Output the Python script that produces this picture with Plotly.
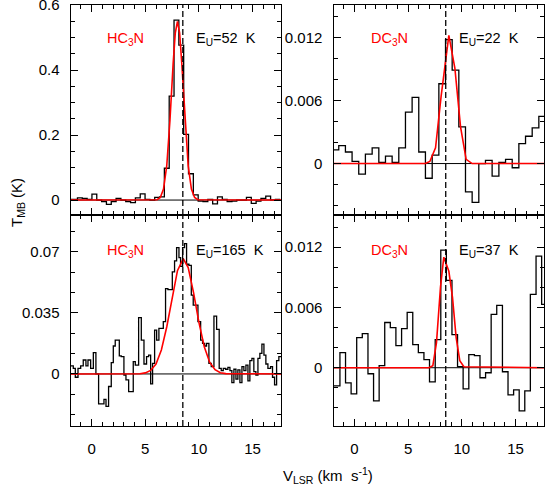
import plotly.graph_objects as go
from plotly.subplots import make_subplots

# ---- HC3N, Eu = 52 K (top left) : channel left edges (km/s) and T_MB (K)
hc3n_52_v = [-2.22, -1.77, -1.32, -0.87, -0.42, 0.03, 0.48, 0.93, 1.38, 1.83,
             2.28, 2.73, 3.18, 3.63, 4.08, 4.53, 4.98, 5.43, 5.88, 6.33,
             6.78, 7.23, 7.68, 8.13, 8.58, 9.03, 9.48, 9.93, 10.38, 10.83,
             11.28, 11.73, 12.18, 12.63, 13.08, 13.53, 13.98, 14.43, 14.88, 15.33,
             15.78, 16.23, 16.68, 17.13, 17.58]
hc3n_52_t = [0.002, 0.002, 0.007, 0.005, 0.002, 0.018, 0.0, -0.005, -0.013, -0.005,
             0.005, 0.0, -0.005, -0.008, 0.007, 0.019, 0.002, 0.0, 0.008, 0.010,
             0.098, 0.320, 0.554, 0.477, 0.202, 0.081, 0.016, -0.003, -0.005, 0.002,
             -0.012, 0.010, 0.002, -0.005, -0.003, 0.0, 0.0, 0.008, -0.010, -0.003,
             0.005, 0.012, 0.0, 0.002]
hc3n_52_fit_v = [-1.95, 6.1, 6.4, 6.7, 7.0, 7.3, 7.6, 7.8, 8.0, 8.2, 8.4, 8.7, 9.0, 9.3, 9.6, 9.9, 17.65]
hc3n_52_fit_t = [0.0, 0.001, 0.008, 0.034, 0.105, 0.245, 0.422, 0.515, 0.55, 0.515, 0.422,
                 0.245, 0.105, 0.034, 0.008, 0.001, 0.0]

# ---- DC3N, Eu = 22 K (top right)
dc3n_22_v = [-2.08, -1.46, -0.84, -0.22, 0.40, 1.02, 1.65, 2.27, 2.89, 3.51,
             4.13, 4.75, 5.37, 5.99, 6.61, 7.24, 7.86, 8.48, 9.10, 9.72,
             10.34, 10.96, 11.58, 12.20, 12.82, 13.45, 14.07, 14.69, 15.31, 15.93,
             16.55, 17.17, 17.79]
dc3n_22_t = [0.0013, 0.0017, 0.0011, 0.0002, -0.0010, 0.0009, 0.0015, 0.0001, 0.0007, 0.0001,
             0.0015, 0.0049, 0.0063, 0.0011, -0.0014, 0.0008, 0.0076, 0.0118, 0.0089, 0.0035,
             -0.0027, -0.0037, 0.0, 0.0003, -0.0012, 0.0001, 0.0004, -0.0004, 0.0019, 0.0026,
             0.0034, 0.0045]
dc3n_22_fit_v = [-1.95, 6.61, 7.02, 7.55, 8.07, 8.79, 9.35, 9.88, 10.40, 10.96, 17.65]
dc3n_22_fit_t = [0.0, 0.0, 0.0002, 0.0015, 0.0064, 0.0122, 0.0091, 0.0035, 0.0004, 0.0, 0.0]

# ---- HC3N, Eu = 165 K (bottom left)
hc3n_165_v = [-1.95, -1.71, -1.52, -1.27, -1.02, -0.78, -0.53, -0.34, -0.09, 0.16,
              0.40, 0.65, 0.90, 1.15, 1.34, 1.58, 1.83, 2.02, 2.20, 2.39,
              2.58, 2.76, 3.01, 3.20, 3.45, 3.63, 3.88, 4.07, 4.38, 4.63,
              4.88, 5.12, 5.31, 5.50, 5.68, 5.87, 6.06, 6.27, 6.49, 6.68,
              6.89, 7.11, 7.30, 7.52, 7.73, 7.92, 8.14, 8.29, 8.48, 8.66,
              8.85, 9.07, 9.29, 9.47, 9.69, 9.91, 10.16, 10.34, 10.53, 10.71,
              10.93, 11.15, 11.40, 11.65, 11.89, 12.08, 12.27, 12.48, 12.70, 12.89,
              13.07, 13.26, 13.45, 13.63, 13.82, 14.01, 14.19, 14.38, 14.57, 14.75,
              14.94, 15.12, 15.31, 15.50, 15.68, 15.87, 16.06, 16.24, 16.43, 16.68,
              16.86, 17.05, 17.24, 17.45, 17.70]
hc3n_165_t = [0.0046, 0.0032, -0.0019, 0.0032, 0.0046, 0.0080, 0.0046, 0.0080, 0.0032, 0.0122,
              0.0, -0.0171, -0.0171, -0.0145, -0.0186, -0.0072, 0.0065, 0.0160, 0.0194, 0.0194,
              0.0103, 0.0099, -0.0006, -0.0034, -0.0101, -0.0101, 0.0070, 0.0051, 0.0323, 0.0194,
              0.0057, 0.0099, 0.0108, -0.0057, 0.0061, 0.0251, 0.0194, 0.0261, 0.0261, 0.0299,
              0.0489, 0.0483, 0.0483, 0.0584, 0.0647, 0.0723, 0.0666, 0.0616, 0.0723, 0.0746,
              0.0628, 0.0622, 0.0451, 0.0394, 0.0394, 0.0299, 0.0194, 0.0175, 0.0160, 0.0175,
              0.0061, 0.0042, 0.0331, 0.0255, 0.0032, 0.0019, 0.0032, 0.0027, 0.0038, 0.0019,
              -0.0050, 0.0027, -0.0030, 0.0023, -0.0050, 0.0042, 0.0019, 0.0051, -0.0040, 0.0076,
              0.0089, 0.0013, -0.0006, 0.0089, 0.0118, 0.0171, 0.0108, 0.0057, 0.0032, 0.0042,
              -0.0019, -0.0063, 0.0076, 0.0099]
hc3n_165_fit_v = [-1.95, 4.5, 5.0, 5.5, 6.0, 6.5, 7.0, 7.5, 8.0, 8.54, 9.0, 9.5, 10.0,
                  10.5, 11.0, 11.5, 12.0, 12.5, 17.65]
hc3n_165_fit_t = [0.0, 0.0001, 0.0006, 0.0020, 0.0057, 0.0137, 0.0269, 0.0438, 0.0591, 0.066,
                  0.0609, 0.0466, 0.0295, 0.0155, 0.0067, 0.0024, 0.0007, 0.0002, 0.0]

# ---- DC3N, Eu = 37 K (bottom right)
dc3n_37_v = [-1.95, -1.35, -0.83, -0.31, 0.21, 0.73, 1.26, 1.78, 2.30, 2.82,
             3.34, 3.86, 4.39, 4.91, 5.43, 5.95, 6.47, 6.99, 7.52, 8.04,
             8.56, 9.08, 9.60, 10.12, 10.65, 11.17, 11.69, 12.21, 12.73, 13.25,
             13.78, 14.30, 14.82, 15.34, 15.86, 16.38, 16.91, 17.43, 17.95]
dc3n_37_t = [-0.0018, 0.0015, -0.0015, -0.0026, 0.0030, 0.0034, -0.0006, -0.0033, 0.0002, 0.0045,
             0.0040, 0.0022, 0.0039, 0.0055, 0.0023, 0.0015, 0.0008, -0.0014, 0.0028, 0.0117,
             0.0087, 0.0033, 0.0001, -0.0021, 0.0013, 0.0012, -0.0010, -0.0005, 0.0053, 0.0062,
             -0.0004, -0.0027, -0.0022, -0.0043, -0.0023, 0.0073, 0.0111, 0.0063]
dc3n_37_fit_v = [-1.95, 6.93, 7.30, 7.64, 8.01, 8.32, 8.79, 9.13, 9.47, 9.81, 10.19, 17.65]
dc3n_37_fit_t = [0.0, 0.0, 0.0002, 0.0025, 0.0080, 0.0110, 0.0096, 0.0070, 0.0030, 0.0007, 0.0001, 0.0]

v_sys = 8.5
x_range = [-1.95, 17.65]

panels = [
    # (row, col, edges, values, fit v, fit t, y range, tick values, tick text, minor step, species, label)
    (1, 1, hc3n_52_v, hc3n_52_t, hc3n_52_fit_v, hc3n_52_fit_t, [-0.046, 0.6005],
     [0, 0.2, 0.4, 0.6], ['0', '0.2', '0.4', '0.6'], 0.05, 'HC<sub>3</sub>N', 'E<sub>U</sub>=52\u00a0 K'),
    (1, 2, dc3n_22_v, dc3n_22_t, dc3n_22_fit_v, dc3n_22_fit_t, [-0.0049, 0.0151],
     [0, 0.006, 0.012], ['0', '0.006', '0.012'], 0.002, 'DC<sub>3</sub>N', 'E<sub>U</sub>=22\u00a0 K'),
    (2, 1, hc3n_165_v, hc3n_165_t, hc3n_165_fit_v, hc3n_165_fit_t, [-0.0298, 0.091],
     [0, 0.035, 0.07], ['0', '0.035', '0.07'], 0.035 / 3, 'HC<sub>3</sub>N', 'E<sub>U</sub>=165\u00a0 K'),
    (2, 2, dc3n_37_v, dc3n_37_t, dc3n_37_fit_v, dc3n_37_fit_t, [-0.0058, 0.0152],
     [0, 0.006, 0.012], ['0', '0.006', '0.012'], 0.002, 'DC<sub>3</sub>N', 'E<sub>U</sub>=37\u00a0 K'),
]

fig = make_subplots(rows=2, cols=2)

W, H = 545, 488
x_dom = {1: [70.7 / W, 281 / W], 2: [333.5 / W, 544 / W]}
y_dom = {1: [1 - 215 / H, 1 - 5 / H], 2: [1 - 426 / H, 1 - 215 / H]}
label_y = {1: 1 - 39 / H, 2: 1 - 251 / H}
species_x = {1: 105 / W, 2: 369 / W}
eu_x = {1: 194 / W, 2: 457 / W}

font = dict(family='Liberation Sans, Arial, sans-serif', size=14.5, color='black')
tick_font = dict(family='Liberation Sans, Arial, sans-serif', size=15, color='black')
axis_common = dict(showline=True, linecolor='black', linewidth=1.3, mirror='allticks',
                   ticks='inside', ticklen=7, tickwidth=1, tickcolor='black', automargin=False,
                   showgrid=False, zeroline=False, tickfont=tick_font, ticklabeloverflow='allow')

for row, col, edges, vals, fv, ft, yr, tv, tt, minor_step, species, label in panels:
    # histogram spectrum
    fig.add_trace(go.Scatter(x=edges, y=vals + [vals[-1]], mode='lines', line_shape='hv',
                             line=dict(color='black', width=1.3), hoverinfo='skip'),
                  row=row, col=col)
    # Gaussian fit
    fig.add_trace(go.Scatter(x=fv, y=ft, mode='lines',
                             line=dict(color='red', width=1.6), hoverinfo='skip'),
                  row=row, col=col)

    fig.update_xaxes(axis_common, range=x_range, domain=x_dom[col],
                     tickmode='array', tickvals=[0, 5, 10, 15], ticklabelstandoff=9,
                     showticklabels=(row == 2),
                     minor=dict(ticks='inside', ticklen=4, tickcolor='black', tickmode='linear',
                                tick0=0, dtick=1),
                     row=row, col=col)
    fig.update_yaxes(axis_common, range=yr, domain=y_dom[row],
                     tickmode='array', tickvals=tv, ticktext=tt, ticklabelstandoff=7,
                     minor=dict(ticks='inside', ticklen=4, tickcolor='black', tickmode='linear',
                                tick0=0, dtick=minor_step),
                     row=row, col=col)

    idx = (row - 1) * 2 + col
    xr = 'x' if idx == 1 else f'x{idx}'
    yref = 'y' if idx == 1 else f'y{idx}'
    # zero baseline and systemic velocity
    fig.add_shape(type='line', xref=f'{xr} domain', yref=yref, x0=0, x1=1, y0=0, y1=0,
                  line=dict(color='black', width=1), layer='below')
    fig.add_shape(type='line', xref=xr, yref=f'{yref} domain', x0=v_sys, x1=v_sys, y0=0, y1=1,
                  line=dict(color='black', width=1.3, dash='6px,3px'))

    fig.add_annotation(text=species, x=species_x[col], y=label_y[row], xref='paper', yref='paper',
                       xanchor='left', yanchor='middle', showarrow=False,
                       font=dict(family=font['family'], size=14.5, color='red'))
    fig.add_annotation(text=label, x=eu_x[col], y=label_y[row], xref='paper', yref='paper',
                       xanchor='left', yanchor='middle', showarrow=False, font=font)

fig.add_annotation(text='T<sub>MB</sub> (K)', x=18 / W, y=1 - 203 / H, xref='paper', yref='paper',
                   textangle=-90, showarrow=False, xanchor='center', yanchor='middle', font=tick_font)
fig.add_annotation(text='V<sub>LSR</sub> (km\u00a0 s<sup>-1</sup>)', x=328 / W, y=1 - 475 / H,
                   xref='paper', yref='paper', showarrow=False, xanchor='center', yanchor='middle',
                   font=tick_font)

fig.update_layout(width=W, height=H, margin=dict(l=0, r=0, t=0, b=0, autoexpand=False),
                  paper_bgcolor='white', plot_bgcolor='white', showlegend=False, font=font)

# the page body has a default 8px margin; remove it so the figure fills the window
fig.write_html("out.html", config={'displayModeBar': False},
               post_script="document.body.style.margin='0';document.body.style.overflow='hidden';")
